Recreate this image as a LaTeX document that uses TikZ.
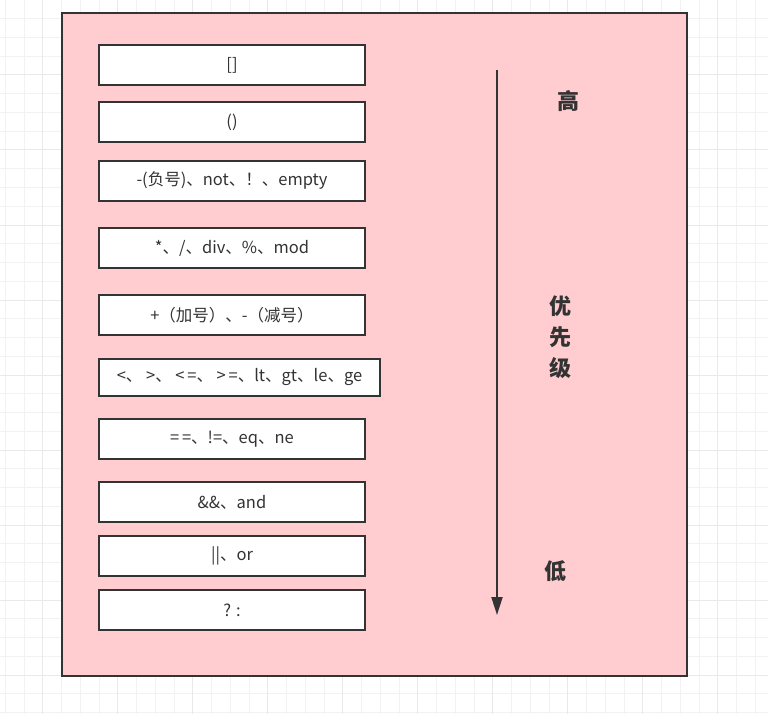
\documentclass[tikz,border=0pt]{standalone}
\usepackage{fontspec}
\setmainfont{Noto Sans CJK SC}
\usetikzlibrary{arrows.meta}
\definecolor{rose}{RGB}{255,204,207}
\definecolor{encre}{RGB}{51,51,51}
\begin{document}
\begin{tikzpicture}[x=1pt, y=-1pt]
				\tikzset{boite/.style={draw=encre, line width=2pt, fill=white, text=encre, inner sep=0pt, minimum width=266pt, minimum height=40pt, font=\fontsize{16.5}{19}\selectfont},
				fleche/.style={draw=encre, line width=2pt, -{Triangle[length=18pt, width=11pt]}},
				titre/.style={text=encre, font=\fontsize{22}{31}\selectfont\bfseries, align=center}};
				\useasboundingbox (0,0) rectangle (768,714);
				\fill[white] (0,0) rectangle (768,714);
				% grille de fond
				\foreach \i in {0,...,40} \draw[gray!10, line width=1pt] ({5.3+18.75*\i},0) -- ++(0,714);
				\foreach \j in {0,...,38} \draw[gray!10, line width=1pt] (0,{18.75*\j}) -- ++(768,0);
				\foreach \i in {0,...,10} \draw[gray!17, line width=1pt] ({42.8+75*\i},0) -- ++(0,714);
				\foreach \j in {0,...,9} \draw[gray!17, line width=1pt] (0,{75*\j}) -- ++(768,0);
				% cadre
				\draw[encre, fill=rose, line width=2pt] (62,13) rectangle (687,676);

				\node[boite] (crochets) at (232,65) {[]};
				\node[boite] (parens) at (232,122) {()};
				\node[boite] (unaire) at (232,181) {-(负号)、not、！、empty};
				\node[boite] (mult) at (232,248) {*、/、div、\%、mod};
				\node[boite] (add) at (232,315) {+（加号）、-（减号）};
				\node[boite, minimum width=281pt, minimum height=37pt] (compar) at (239.5,377) {<、 >、 <\,=、 >\,=、lt、gt、le、ge};
				\node[boite] (egal) at (232,439) {=\,=、!=、eq、ne};
				\node[boite] (et) at (232,502) {\&\&、and};
				\node[boite] (ou) at (232,556) {||、or};
				\node[boite] (tern) at (232,610) {? :};

				\coordinate (haut) at (497,70);
				\coordinate (bas) at (497,615);
				\draw[fleche] (haut) -- (bas);

				\node[titre] (eleve) at (568,101) {高};
				\node[titre] (prio) at (560,337) {优\\先\\级};
				\node[titre] (faible) at (555,571) {低};
			\end{tikzpicture}
\end{document}
